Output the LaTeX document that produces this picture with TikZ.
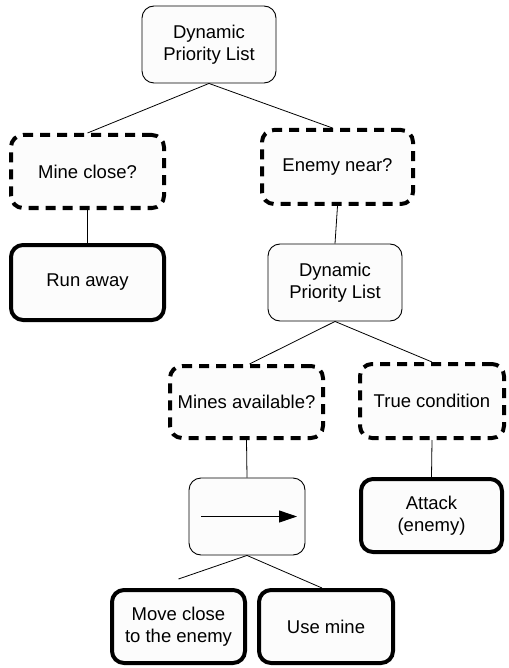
\documentclass[tikz,border=0pt]{standalone}
\usepackage{fontspec}
\setmainfont{Liberation Sans}
\usetikzlibrary{arrows.meta}
\begin{document}
\begin{tikzpicture}[x=1pt,y=-1pt,
  base/.style={rectangle, rounded corners=12pt, fill=black!1, align=center,
    font=\fontsize{18.5}{22}\selectfont, inner sep=0pt},
  listbox/.style={base, draw, line width=0.9pt},
  condbox/.style={base, draw, line width=4pt, dash pattern=on 10pt off 7pt},
  actbox/.style={base, draw, line width=4pt},
  conn/.style={line width=0.8pt},
]
\useasboundingbox (0,0) rectangle (508,668);
\node[listbox, minimum width=134pt, minimum height=77pt] (dpl1) at (209,44.5) {Dynamic\\Priority List};
\node[condbox, minimum width=153pt, minimum height=73pt] (mine) at (87.5,171.5) {Mine close?};
\node[condbox, minimum width=151pt, minimum height=74pt] (enemy) at (337.5,167) {Enemy near?};
\node[actbox, minimum width=153pt, minimum height=75pt] (run) at (87.5,282.5) {Run away};
\node[listbox, minimum width=134pt, minimum height=77pt] (dpl2) at (335,282.5) {Dynamic\\Priority List};
\node[condbox, minimum width=153pt, minimum height=72pt] (avail) at (246.5,402) {Mines available?};
\node[condbox, minimum width=144pt, minimum height=74pt] (truec) at (432,401) {True condition};
\node[listbox, minimum width=116pt, minimum height=77pt] (seq) at (247,516.5) {};
\node[actbox, minimum width=141pt, minimum height=73pt] (attack) at (431.5,515.5) {Attack\\(enemy)};
\node[actbox, minimum width=133pt, minimum height=73pt] (move) at (178.5,626.5) {Move close\\to the enemy};
\node[actbox, minimum width=134pt, minimum height=73pt] (use) at (326,626.5) {Use mine};
\draw[line width=0.9pt, -{Triangle[length=18pt,width=12pt]}] ([xshift=-46pt]seq.center) -- ([xshift=50pt]seq.center);
\draw[conn] (dpl1.south) -- (mine.north);
\draw[conn] (dpl1.south) -- ([xshift=-5pt]enemy.north);
\draw[conn] (mine.south) -- (run.north);
\draw[conn] (enemy.south) -- (dpl2.north);
\draw[conn] (dpl2.south) -- ([xshift=3pt]avail.north);
\draw[conn] (dpl2.south) -- (truec.north);
\draw[conn] (avail.south) -- (seq.north);
\draw[conn] (truec.south) -- (attack.north);
\draw[conn] (seq.south) -- ([yshift=9pt]move.north);
\draw[conn] (seq.south) -- ([xshift=-4pt]use.north);
\end{tikzpicture}
\end{document}
